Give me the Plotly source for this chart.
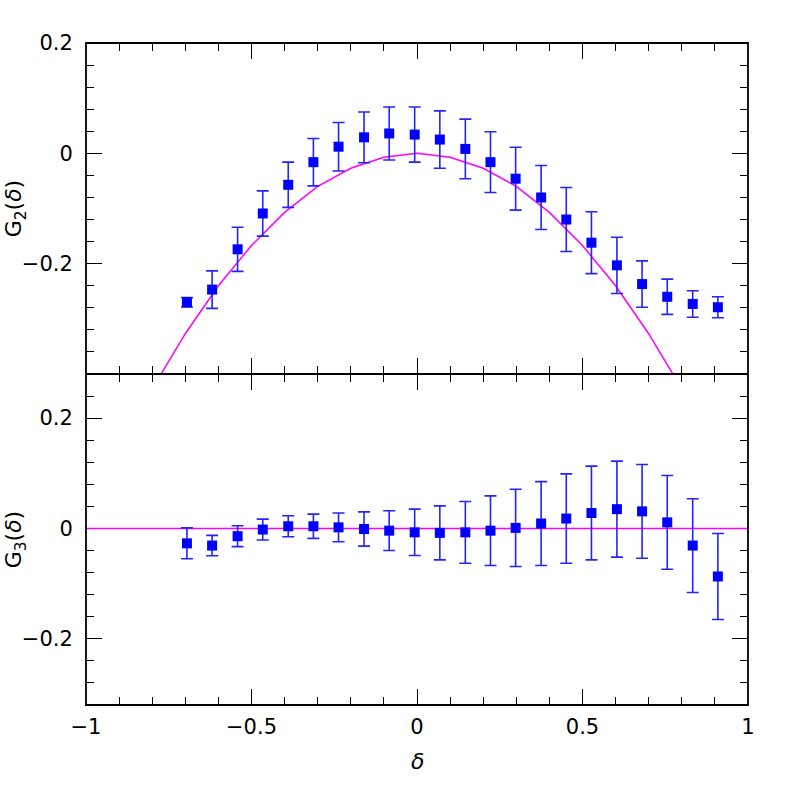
import plotly.graph_objects as go

# ---- data ----
delta = [-0.695, -0.619, -0.542, -0.466, -0.389, -0.313, -0.237, -0.160, -0.084, -0.007,
         0.069, 0.146, 0.222, 0.298, 0.375, 0.451, 0.527, 0.604, 0.680, 0.756, 0.833, 0.909]

g2 = [-0.270, -0.247, -0.174, -0.109, -0.057, -0.016, 0.012, 0.029, 0.036, 0.034,
      0.025, 0.008, -0.016, -0.046, -0.080, -0.120, -0.162, -0.203, -0.237, -0.260, -0.273, -0.279]
g2_err = [0.0085, 0.034, 0.040, 0.041, 0.041, 0.043, 0.044, 0.046, 0.048, 0.050,
          0.052, 0.054, 0.055, 0.057, 0.058, 0.058, 0.056, 0.051, 0.042, 0.032, 0.024, 0.019]

g3 = [-0.027, -0.031, -0.014, -0.002, 0.004, 0.004, 0.002, -0.001, -0.004, -0.007,
      -0.008, -0.007, -0.004, 0.001, 0.009, 0.018, 0.028, 0.035, 0.031, 0.011, -0.031, -0.087]
g3_err = [0.028, 0.0185, 0.019, 0.019, 0.019, 0.022, 0.026, 0.031, 0.036, 0.042,
          0.049, 0.056, 0.063, 0.070, 0.076, 0.081, 0.085, 0.087, 0.085, 0.085, 0.085, 0.078]

# model curves
model_x = [-1.0, -0.9, -0.8, -0.7, -0.6, -0.5, -0.4, -0.3, -0.2, -0.1, 0.0,
           0.1, 0.2, 0.3, 0.4, 0.5, 0.6, 0.7, 0.8, 0.9, 1.0]
model_g2 = [-0.667, -0.540, -0.427, -0.327, -0.240, -0.167, -0.107, -0.060, -0.027, -0.007, 0.0,
            -0.007, -0.027, -0.060, -0.107, -0.167, -0.240, -0.327, -0.427, -0.540, -0.667]
model_g3_x = [-1.0, 1.0]
model_g3 = [0.0, 0.0]

x_tickvals = [-1, -0.5, 0, 0.5, 1]
x_ticktext = ["\u22121", "\u22120.5", "0", "0.5", "1"]
y_tickvals = [-0.2, 0, 0.2]
y_ticktext = ["\u22120.2", "0", "0.2"]

MAG = "#ff00ff"
BLUE = "#0000ff"
EBLUE = "#2424ff"
FONT = "DejaVu Sans"

fig = go.Figure()

fig.add_trace(go.Scatter(x=model_x, y=model_g2, mode="lines",
                         line=dict(color=MAG, width=1.5), xaxis="x", yaxis="y",
                         showlegend=False))
fig.add_trace(go.Scatter(x=delta, y=g2, mode="markers",
                         marker=dict(symbol="square", size=10, color=BLUE),
                         error_y=dict(type="data", array=g2_err, color=EBLUE,
                                      thickness=1.6, width=6),
                         xaxis="x", yaxis="y", showlegend=False))
fig.add_trace(go.Scatter(x=model_g3_x, y=model_g3, mode="lines",
                         line=dict(color=MAG, width=1.5), xaxis="x2", yaxis="y2",
                         showlegend=False))
fig.add_trace(go.Scatter(x=delta, y=g3, mode="markers",
                         marker=dict(symbol="square", size=10, color=BLUE),
                         error_y=dict(type="data", array=g3_err, color=EBLUE,
                                      thickness=1.6, width=6),
                         xaxis="x2", yaxis="y2", showlegend=False))

axis_common = dict(showline=True, linecolor="rgba(0,0,0,0)", linewidth=1, mirror="ticks",
                   ticks="inside", ticklen=16, tickwidth=1.4, tickcolor="black",
                   showgrid=False, zeroline=False, automargin=False,
                   layer="below traces",
                   tickfont=dict(family=FONT, size=21, color="black"))

minor_x = dict(ticks="inside", ticklen=8, tickwidth=1.4, tickcolor="black",
               tick0=0, dtick=0.1, showgrid=False)
minor_y = dict(ticks="inside", ticklen=8, tickwidth=1.4, tickcolor="black",
               tick0=0, dtick=0.04, showgrid=False)

fig.update_layout(
    width=789, height=789,
    margin=dict(l=86, r=41, t=43, b=84),
    paper_bgcolor="white", plot_bgcolor="white",
    font=dict(family=FONT, color="black"),
    xaxis=dict(domain=[0, 1], range=[-1, 1], anchor="y",
               tickmode="array", tickvals=x_tickvals, ticktext=x_ticktext,
               showticklabels=False, minor=minor_x, **axis_common),
    yaxis=dict(domain=[0.5, 1], range=[-0.4, 0.2], anchor="x",
               tickmode="array", tickvals=y_tickvals, ticktext=y_ticktext,
               ticklabelstandoff=8, minor=minor_y, **axis_common),
    xaxis2=dict(domain=[0, 1], range=[-1, 1], anchor="y2",
                tickmode="array", tickvals=x_tickvals, ticktext=x_ticktext,
                ticklabelstandoff=3, minor=minor_x, **axis_common),
    yaxis2=dict(domain=[0, 0.5], range=[-0.32, 0.28], anchor="x2",
                tickmode="array", tickvals=y_tickvals, ticktext=y_ticktext,
                ticklabelstandoff=8, minor=minor_y, **axis_common),
    shapes=[
        dict(type="rect", xref="paper", yref="paper", x0=0, x1=1, y0=0, y1=1,
             line=dict(color="black", width=1.8), layer="above"),
        dict(type="line", xref="paper", yref="paper", x0=0, x1=1, y0=0.5, y1=0.5,
             line=dict(color="black", width=1.8), layer="above"),
    ],
    annotations=[
        dict(text="G<sub>2</sub>(<i>δ</i>)", xref="paper", yref="paper",
             x=-0.106, y=0.75, xanchor="center", yanchor="middle", textangle=-90,
             showarrow=False, font=dict(family=FONT, size=22, color="black")),
        dict(text="G<sub>3</sub>(<i>δ</i>)", xref="paper", yref="paper",
             x=-0.106, y=0.25, xanchor="center", yanchor="middle", textangle=-90,
             showarrow=False, font=dict(family=FONT, size=22, color="black")),
        dict(text="<i>δ</i>", xref="paper", yref="paper",
             x=0.5, y=-0.086, xanchor="center", yanchor="middle",
             showarrow=False, font=dict(family=FONT, size=22, color="black")),
    ],
)

fig.write_html("out.html",
               config={"displayModeBar": False},
               post_script="document.body.style.margin='0';document.body.style.overflow='hidden';")
